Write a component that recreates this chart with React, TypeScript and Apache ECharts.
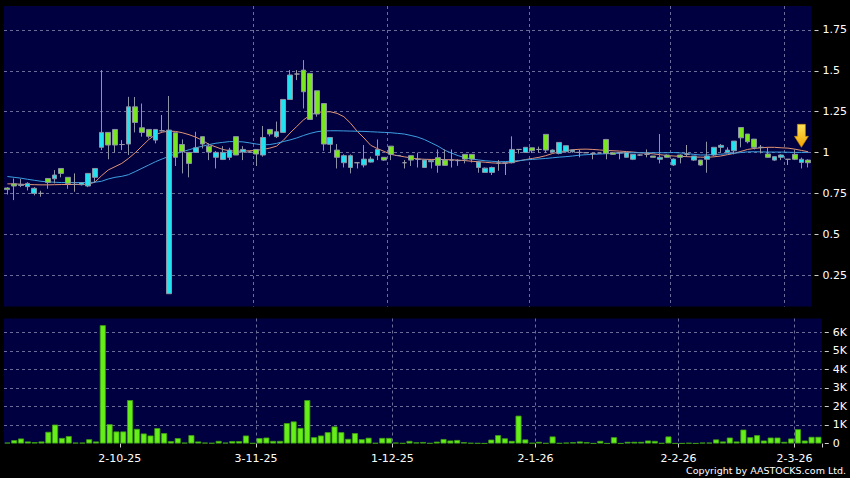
import React, { useEffect, useRef } from 'react';
import * as echarts from 'echarts';

const dates = [
  '8-9-25','9-9-25','10-9-25','11-9-25','12-9-25','15-9-25','16-9-25','17-9-25','18-9-25','19-9-25','22-9-25','23-9-25','24-9-25','25-9-25','26-9-25','29-9-25','30-9-25',
  '2-10-25','3-10-25','6-10-25','8-10-25','9-10-25','10-10-25','13-10-25','14-10-25','15-10-25','16-10-25','17-10-25','20-10-25','21-10-25','22-10-25','23-10-25','24-10-25','27-10-25','28-10-25','30-10-25','31-10-25',
  '3-11-25','4-11-25','5-11-25','6-11-25','7-11-25','10-11-25','11-11-25','12-11-25','13-11-25','14-11-25','17-11-25','18-11-25','19-11-25','20-11-25','21-11-25','24-11-25','25-11-25','26-11-25','27-11-25','28-11-25',
  '1-12-25','2-12-25','3-12-25','4-12-25','5-12-25','8-12-25','9-12-25','10-12-25','11-12-25','12-12-25','15-12-25','16-12-25','17-12-25','18-12-25','19-12-25','22-12-25','23-12-25','24-12-25','29-12-25','30-12-25','31-12-25',
  '2-1-26','5-1-26','6-1-26','7-1-26','8-1-26','9-1-26','12-1-26','13-1-26','14-1-26','15-1-26','16-1-26','19-1-26','20-1-26','21-1-26','22-1-26','23-1-26','26-1-26','27-1-26','28-1-26','29-1-26','30-1-26',
  '2-2-26','3-2-26','4-2-26','5-2-26','6-2-26','9-2-26','10-2-26','11-2-26','12-2-26','13-2-26','16-2-26','20-2-26','23-2-26','24-2-26','25-2-26','26-2-26','27-2-26',
  '2-3-26','3-3-26','4-3-26','5-3-26',
];

const opens = [
  0.785,0.81,0.805,0.793,0.752,0.752,0.843,0.841,0.904,0.85,
  0.807,0.805,0.797,0.85,1.033,1.124,1.142,1.05,1.053,1.28,
  1.152,1.142,1.077,1.134,0.14,1.122,1.05,1.002,1.002,1.098,
  1.04,0.972,0.959,0.972,1.098,1.004,1.004,1.02,0.986,1.142,
  1.098,1.124,1.325,1.48,1.504,1.484,1.378,1.3,1.051,1.016,
  0.939,0.91,0.939,0.925,0.943,0.984,0.972,1.04,0.983,0.939,
  0.982,0.96,0.91,0.945,0.97,0.955,0.955,0.952,0.99,0.99,
  0.91,0.88,0.88,0.937,0.937,0.939,1.02,1.002,1.03,1.02,
  1.112,1.004,0.996,1.006,1.006,1.002,1.0,0.996,0.998,1.081,
  1.0,1.0,0.972,0.96,0.986,0.99,0.98,0.96,0.986,0.925,
  0.986,0.99,0.955,0.955,0.96,0.986,1.033,1.002,1.012,1.154,
  1.114,1.083,1.033,0.992,0.955,0.972,0.96,0.99,0.941,0.955,
];
const closes = [
  0.775,0.797,0.8,0.813,0.783,0.752,0.819,0.864,0.874,0.813,
  0.807,0.817,0.874,0.904,1.124,1.047,1.047,1.05,1.28,1.185,
  1.124,1.1,1.142,1.134,1.138,0.972,1.006,0.935,1.03,1.053,
  1.004,1.002,1.002,1.016,0.986,1.02,1.004,0.992,1.093,1.114,
  1.128,1.325,1.474,1.48,1.372,1.203,1.236,1.053,1.093,0.972,
  0.982,0.982,0.939,0.961,0.961,1.02,0.955,0.99,0.983,0.939,
  0.955,0.96,0.955,0.952,0.923,0.923,0.955,0.952,0.961,0.961,
  0.943,0.906,0.91,0.937,0.937,1.02,1.02,1.033,1.012,1.02,
  1.016,1.016,1.063,1.043,1.016,1.002,1.0,0.996,0.998,0.996,
  0.99,1.0,1.002,0.99,0.986,0.99,0.972,0.972,0.972,0.961,
  0.972,0.99,0.98,0.925,0.98,1.033,1.045,1.016,1.071,1.091,
  1.067,1.033,1.033,0.972,0.976,0.986,0.96,0.96,0.96,0.939,
];
const lows = [
  0.745,0.711,0.79,0.77,0.74,0.732,0.78,0.813,0.85,0.78,
  0.762,0.8,0.79,0.817,1.016,0.96,1.0,1.016,0.986,1.124,
  1.098,1.087,1.057,1.13,0.14,0.919,0.874,0.85,1.0,1.026,
  0.955,0.904,0.955,0.955,0.986,0.955,1.0,0.919,0.976,1.1,
  1.09,1.12,1.325,1.443,1.27,1.2,1.22,1.012,1.0,0.904,
  0.91,0.874,0.904,0.91,0.94,0.955,0.95,0.955,0.983,0.904,
  0.919,0.91,0.91,0.904,0.878,0.92,0.91,0.92,0.935,0.94,
  0.878,0.88,0.864,0.89,0.864,0.935,0.995,1.0,0.998,1.0,
  1.0,1.0,0.99,1.0,1.0,0.972,1.0,0.96,0.998,0.96,
  0.99,0.96,0.97,0.955,0.98,0.972,0.97,0.935,0.97,0.92,
  0.935,0.976,0.95,0.92,0.878,0.98,1.0,1.0,0.99,1.033,
  1.057,1.02,0.996,0.97,0.95,0.955,0.925,0.955,0.904,0.91,
];
const highs = [
  0.79,0.843,0.84,0.82,0.79,0.768,0.843,0.894,0.904,0.85,
  0.874,0.82,0.874,0.904,1.504,1.124,1.142,1.077,1.341,1.34,
  1.3,1.142,1.142,1.23,1.346,1.122,1.081,1.002,1.128,1.098,
  1.057,1.01,1.04,1.03,1.098,1.04,1.01,1.02,1.163,1.142,
  1.19,1.325,1.504,1.504,1.565,1.484,1.378,1.3,1.093,1.053,
  0.99,0.99,0.94,1.047,0.976,1.081,0.972,1.04,0.983,0.955,
  0.982,1.0,0.96,0.96,1.02,1.02,1.02,0.96,0.99,0.99,
  0.95,0.91,0.915,0.955,0.94,1.1,1.02,1.033,1.03,1.037,
  1.112,1.02,1.063,1.043,1.02,1.02,1.0,1.0,0.998,1.081,
  1.0,1.0,1.005,0.99,0.99,1.02,0.98,1.114,0.99,0.965,
  0.99,1.047,0.98,0.955,1.067,1.033,1.053,1.033,1.071,1.154,
  1.114,1.083,1.047,1.033,0.98,0.99,0.96,1.02,0.97,0.96,
];
const volumes = [
  50,180,270,110,70,110,630,1020,300,400,
  50,50,230,110,6380,1040,650,650,2340,790,
  540,430,830,560,130,290,50,450,110,50,
  30,140,50,130,130,430,20,290,320,140,
  140,1100,1190,840,2340,340,430,610,920,610,
  250,560,230,310,30,300,300,50,20,140,
  60,80,20,100,240,160,190,70,30,20,
  10,210,450,280,140,1500,220,30,90,20,
  380,20,50,70,110,70,10,140,10,340,
  10,90,90,90,160,140,20,380,10,10,
  30,10,50,50,220,110,320,110,750,340,
  450,160,320,320,90,270,770,160,360,360,
];
const maShort = [
  0.81,0.81,0.808,0.806,0.805,0.804,0.804,0.805,0.806,0.806,
  0.806,0.807,0.808,0.82,0.86,0.895,0.915,0.935,0.965,1.0,
  1.04,1.08,1.11,1.125,1.132,1.13,1.122,1.11,1.095,1.075,
  1.05,1.035,1.02,1.012,1.01,1.01,1.012,1.014,1.02,1.028,
  1.04,1.075,1.12,1.16,1.2,1.23,1.245,1.25,1.25,1.24,
  1.22,1.18,1.13,1.09,1.045,1.025,1.008,0.99,0.982,0.975,
  0.968,0.962,0.96,0.959,0.959,0.958,0.957,0.955,0.952,0.948,
  0.945,0.942,0.938,0.936,0.937,0.94,0.95,0.958,0.965,0.972,
  0.982,0.995,1.005,1.013,1.018,1.021,1.022,1.02,1.017,1.014,
  1.012,1.01,1.007,1.004,1.0,0.997,0.993,0.988,0.983,0.98,
  0.978,0.976,0.974,0.973,0.972,0.975,0.98,0.988,0.996,1.008,
  1.02,1.026,1.03,1.033,1.033,1.03,1.028,1.022,1.014,1.006,
];
const maLong = [
  0.855,0.85,0.845,0.838,0.832,0.826,0.822,0.82,0.818,0.818,
  0.818,0.818,0.818,0.82,0.826,0.84,0.85,0.856,0.866,0.885,
  0.905,0.925,0.945,0.962,0.978,0.993,1.006,1.018,1.03,1.04,
  1.05,1.058,1.063,1.068,1.068,1.066,1.06,1.053,1.048,1.05,
  1.057,1.068,1.078,1.09,1.105,1.118,1.128,1.133,1.134,1.134,
  1.133,1.132,1.131,1.13,1.128,1.126,1.124,1.122,1.118,1.114,
  1.105,1.095,1.08,1.06,1.04,1.015,0.998,0.982,0.97,0.962,
  0.956,0.951,0.948,0.945,0.946,0.949,0.952,0.956,0.959,0.962,
  0.965,0.969,0.973,0.976,0.98,0.985,0.988,0.99,0.992,0.994,
  0.995,0.997,0.999,1.0,1.0,1.0,1.0,1.0,1.0,1.001,
  0.999,0.995,0.99,0.986,0.987,0.989,0.991,0.994,0.997,1.001,
  1.005,1.006,1.005,1.004,1.004,1.004,1.003,1.002,1.002,1.002,
];
const priceTicks = [0.25, 0.5, 0.75, 1, 1.25, 1.5, 1.75];
const volumeTicks = [0, 1000, 2000, 3000, 4000, 5000, 6000];
const arrowIndex = 118;
const arrowTip = 1.033;

const FONT = 'DejaVu Sans';
const gridLine = { color: '#6c6c98', type: [3, 3] as number[], width: 1 };

function isMonthStart(i: number) {
  if (i <= 0) return false;
  return dates[i].split('-')[1] !== dates[i - 1].split('-')[1];
}

export default function App() {
  const ref = useRef<HTMLDivElement>(null);
  useEffect(() => {
    document.body.style.margin = '0';
    document.body.style.background = '#000';
    const chart = echarts.init(ref.current!, null, { renderer: 'svg' });
    const candles = opens.map((o, i) => [o, closes[i], lows[i], highs[i]]);
    const option: any = {
      animation: false,
      backgroundColor: '#000',
      grid: [
        { left: 4, top: 6, width: 818, height: 300.5, show: true, backgroundColor: '#000040', borderWidth: 0 },
        { left: 4, top: 318.5, width: 818, height: 125, show: true, backgroundColor: '#000040', borderWidth: 0 },
      ],
      xAxis: [
        {
          type: 'category', gridIndex: 0, data: dates, boundaryGap: true,
          axisLine: { show: false }, axisTick: { show: false }, axisLabel: { show: false },
          splitLine: { show: true, interval: isMonthStart, showMinLine: false, showMaxLine: false, lineStyle: gridLine },
        },
        {
          type: 'category', gridIndex: 1, data: dates, boundaryGap: true, offset: 2,
          axisLine: { show: false },
          axisTick: { show: true, interval: isMonthStart, length: 4, lineStyle: { color: '#cfcfcf' } },
          axisLabel: { interval: isMonthStart, color: '#ffffff', fontFamily: FONT, fontSize: 11, margin: 7, padding: [0, 7, 0, 0] },
          splitLine: { show: true, interval: isMonthStart, showMinLine: false, showMaxLine: false, lineStyle: gridLine },
        },
      ],
      yAxis: [
        {
          type: 'value', gridIndex: 0, position: 'right', min: 0.062, max: 1.895, offset: 3,
          axisLine: { show: false },
          axisTick: { show: true, length: 4, customValues: priceTicks, lineStyle: { color: '#cfcfcf' } },
          axisLabel: { customValues: priceTicks, color: '#ffffff', fontFamily: FONT, fontSize: 11, margin: 8, formatter: (v: number) => String(v) },
          splitLine: { show: true, lineStyle: gridLine },
        },
        {
          type: 'value', gridIndex: 1, position: 'right', min: 0, max: 6740, offset: 3,
          axisLine: { show: false },
          axisTick: { show: true, length: 4, customValues: volumeTicks, lineStyle: { color: '#cfcfcf' } },
          axisLabel: { customValues: volumeTicks, color: '#ffffff', fontFamily: FONT, fontSize: 11, margin: 8, formatter: (v: number) => (v === 0 ? '0' : v / 1000 + 'K') },
          splitLine: { show: true, showMinLine: false, lineStyle: gridLine },
        },
      ],
      series: [
        {
          name: 'MA10', type: 'line', xAxisIndex: 0, yAxisIndex: 0, data: maShort,
          showSymbol: false, symbol: 'none', lineStyle: { color: '#e39473', width: 1 }, z: 2,
        },
        {
          name: 'MA20', type: 'line', xAxisIndex: 0, yAxisIndex: 0, data: maLong,
          showSymbol: false, symbol: 'none', lineStyle: { color: '#3d9fe0', width: 1 }, z: 2,
        },
        {
          name: 'K', type: 'candlestick', xAxisIndex: 0, yAxisIndex: 0, data: candles, barWidth: '78%', z: 3,
          itemStyle: {
            color: '#22e2f0', color0: '#7ae620',
            borderColor: '#8c93a6', borderColor0: '#8c93a6', borderColorDoji: '#9a9aa6', borderWidth: 1,
          },
          markPoint: {
            symbol: 'path://M3,0 L11,0 L11,12 L14,12 L7,23 L0,12 L3,12 Z',
            symbolSize: [14, 23],
            symbolOffset: [0, '-50%'],
            label: { show: false },
            itemStyle: {
              color: new echarts.graphic.LinearGradient(0, 0, 0, 1, [
                { offset: 0, color: '#ffe45a' },
                { offset: 1, color: '#f2a200' },
              ]),
              borderColor: '#c98600', borderWidth: 0.6,
            },
            data: [{ coord: [arrowIndex, arrowTip] }],
          },
        },
        {
          name: 'Volume', type: 'bar', xAxisIndex: 1, yAxisIndex: 1, data: volumes, barCategoryGap: '12%',
          itemStyle: { color: '#66ee18', borderColor: '#3f9e12', borderWidth: 0.8 },
        },
      ],
      graphic: [
        {
          type: 'text', right: 4, top: 465,
          style: { text: 'Copyright by AASTOCKS.com Ltd.', fill: '#ffffff', font: '9.5px "DejaVu Sans"' },
        },
      ],
    };
    chart.setOption(option);
    return () => chart.dispose();
  }, []);
  return <div ref={ref} style={{ width: 850, height: 478, background: '#000' }} />;
}
